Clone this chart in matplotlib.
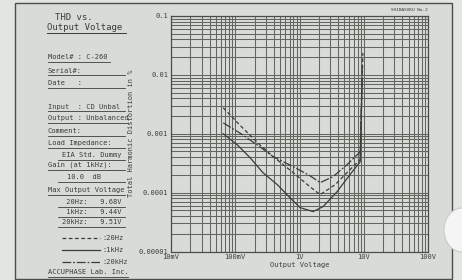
import matplotlib
matplotlib.use("Agg")
import matplotlib.pyplot as plt
from matplotlib.lines import Line2D
from matplotlib.patches import Rectangle, Ellipse

# ---- data ----
x_ticks = [0.01, 0.1, 1, 10, 100]
x_tick_labels = ["10mV", "100mV", "1V", "10V", "100V"]
y_ticks = [1e-5, 1e-4, 1e-3, 1e-2, 1e-1]
y_tick_labels = ["0.00001", "0.0001", "0.001", "0.01", "0.1"]

v_20hz = [0.065, 0.13, 0.24, 0.39, 0.8, 1.45, 2.1, 3.6, 6.1, 8.8, 9.68]
thd_20hz = [0.00276, 0.00126, 0.000652, 0.000407, 0.000218, 0.000126,
            0.0000925, 0.000137, 0.000245, 0.000362, 0.0236]

v_1khz = [0.065, 0.107, 0.17, 0.27, 0.45, 0.71, 1.02, 1.63, 2.33, 3.85, 6.1, 8.8, 9.44]
thd_1khz = [0.001, 0.000652, 0.000392, 0.000218, 0.000137, 0.0000822,
            0.0000557, 0.0000476, 0.0000579, 0.000104, 0.000202, 0.000335, 0.00822]

v_20khz = [0.065, 0.13, 0.24, 0.39, 0.8, 1.45, 2.1, 3.33, 5.5, 8.8, 9.51]
thd_20khz = [0.00153, 0.000962, 0.000603, 0.000407, 0.000276, 0.000194,
             0.000148, 0.000187, 0.000299, 0.000495, 0.0148]

info_lines = [
    ("Model# : C-260", 48, 57, 48, 110),
    ("Serial#:", 48, 71, 48, 125),
    ("Date   :", 48, 83, 48, 125),
    ("Input  : CD Unbal", 48, 107, 48, 125),
    ("Output : Unbalanced", 48, 118, 48, 128),
    ("Comment:", 48, 131, 48, 125),
    ("Load Impedance:", 48, 143, 48, 125),
    ("EIA Std. Dummy", 62, 155, 58, 125),
    ("Gain (at 1kHz):", 48, 165, 48, 125),
    ("10.0  dB", 67, 177, 58, 125),
    ("Max Output Voltage", 48, 190, 48, 125),
    (" 20Hz:   9.68V", 62, 202, 58, 125),
    (" 1kHz:   9.44V", 62, 212, 58, 125),
    ("20kHz:   9.51V", 62, 222, 58, 125),
    ("ACCUPHASE Lab. Inc.", 48, 272, 48, 128),
]
legend_labels = [":20Hz", ":1kHz", ":20kHz"]

# ---- style ----
W, H = 462, 280
paper = "#d8dcd8"
ink = "#3a3d3a"
grid_c = "#61665f"
mono = "DejaVu Sans Mono"

def fx(x):
    return x / W

def fy(y):
    return 1 - y / H

fig = plt.figure(figsize=(W / 100, H / 100), dpi=100, facecolor="#e3e5e2")

# frame
fig.patches.append(Rectangle((fx(15), fy(279)), fx(452) - fx(15), fy(3) - fy(279),
                             transform=fig.transFigure, facecolor=paper,
                             edgecolor="#4a4d4a", lw=1.0, zorder=-5))
# photo artifact bump at right edge
fig.patches.append(Ellipse((fx(462), fy(230)), 36 / W, 44 / H, transform=fig.transFigure,
                           facecolor="#f4f5f4", edgecolor="#c8cbc8", lw=0.8, zorder=-4))

ax = fig.add_axes([fx(171), fy(251.5), fx(428) - fx(171), fy(16) - fy(251.5)])
ax.set_zorder(2)
ax.set_facecolor(paper)
ax.set_xscale("log")
ax.set_yscale("log")
ax.set_xlim(0.01, 100)
ax.set_ylim(1e-5, 0.1)
ax.grid(which="both", color=grid_c, lw=0.75)
ax.set_axisbelow(True)
for s in ax.spines.values():
    s.set_color("#4a4d4a")
    s.set_linewidth(0.9)

ax.set_xticks(x_ticks)
ax.set_xticklabels(x_tick_labels)
ax.set_yticks(y_ticks)
ax.set_yticklabels(y_tick_labels)
ax.tick_params(which="both", length=0, labelsize=5, colors=ink, pad=2)
for lab in ax.get_xticklabels() + ax.get_yticklabels():
    lab.set_fontfamily(mono)
ax.set_xlabel("Output Voltage", fontsize=5, family=mono, color=ink, labelpad=1)

ls_20hz = (0, (3, 2))
ls_1khz = "-"
ls_20khz = (0, (7, 1.5, 1.5, 1.5))

ax.plot(v_20hz, thd_20hz, color=ink, lw=0.9, ls=ls_20hz)
ax.plot(v_1khz, thd_1khz, color=ink, lw=0.9, ls=ls_1khz)
ax.plot(v_20khz, thd_20khz, color=ink, lw=0.9, ls=ls_20khz)

fig.text(fx(428), fy(10), "SHIBASOKU No.2", fontsize=3.2, family=mono, color=ink,
         ha="right", va="center")

# y label
fig.text(fx(131), fy(133), "Total Harmonic Distortion in %", fontsize=5, family=mono,
         color=ink, rotation=90, ha="center", va="center")

# title
fig.text(fx(55), fy(17), "THD vs.", fontsize=6.5, family=mono, color=ink, va="center")
fig.text(fx(47), fy(28), "Output Voltage", fontsize=6.5, family=mono, color=ink, va="center")
fig.add_artist(Line2D([fx(47), fx(126)], [fy(33), fy(33)], color=ink, lw=0.7))

for txt, x, y, u0, u1 in info_lines:
    fig.text(fx(x), fy(y), txt, fontsize=5, family=mono, color=ink, va="center")
    fig.add_artist(Line2D([fx(u0), fx(u1)], [fy(y + 4.5), fy(y + 4.5)], color=ink, lw=0.6))

for lab, ls, y in zip(legend_labels, [ls_20hz, ls_1khz, ls_20khz], [238, 250, 262]):
    fig.add_artist(Line2D([fx(62), fx(100)], [fy(y), fy(y)], color=ink, lw=0.9, ls=ls))
    fig.text(fx(102), fy(y), lab, fontsize=5, family=mono, color=ink, va="center")

fig.savefig("out.png", dpi=100, facecolor=fig.get_facecolor())
